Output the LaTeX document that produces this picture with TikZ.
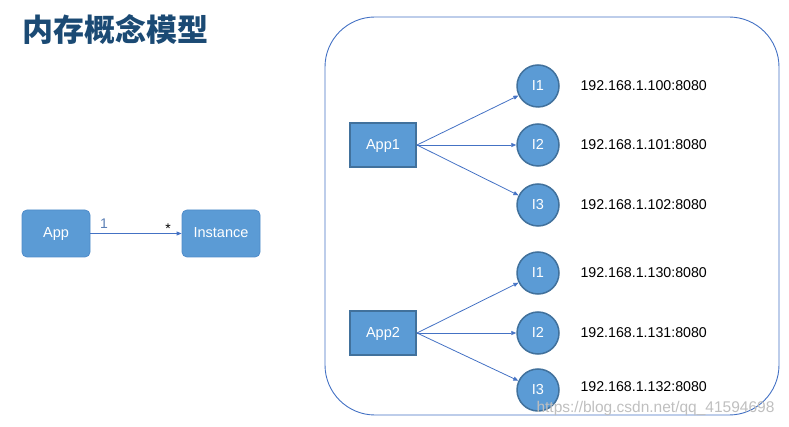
\documentclass[tikz,border=0pt]{standalone}
\usepackage{fontspec}
\setmainfont{Liberation Sans}
\newfontfamily\cjk{Noto Sans CJK SC}
\usetikzlibrary{arrows.meta}
\definecolor{boxfill}{HTML}{5B9BD5}
\definecolor{boxedge}{HTML}{41719C}
\definecolor{lightedge}{HTML}{4F8BC9}
\definecolor{linkblue}{HTML}{4472C4}
\definecolor{titleblue}{HTML}{1B4A74}
\definecolor{labelblue}{HTML}{5B7FB5}
\begin{document}
\begin{tikzpicture}[x=1pt,y=-1pt,
  lbl/.style={text=white, font=\fontsize{14.5}{16}\selectfont, text height=9pt, text depth=0pt, inner sep=0pt},
  rbox/.style={lbl, draw=lightedge, line width=0.8pt, fill=boxfill, rounded corners=5pt,
    minimum width=68pt, minimum height=47pt},
  appbox/.style={lbl, draw=boxedge, line width=2pt, fill=boxfill,
    minimum width=66pt, minimum height=44pt},
  inst/.style={lbl, circle, draw=boxedge, line width=1.5pt, fill=boxfill, minimum size=42pt},
  ip/.style={anchor=west, font=\fontsize{14.2}{16}\selectfont, text=black},
  link/.style={draw=linkblue, line width=0.8pt, -{Triangle[length=5pt,width=4pt]}},
]
\useasboundingbox (0,0) rectangle (789,427);
\node[font=\cjk\bfseries\fontsize{31}{35}\selectfont, text=titleblue, anchor=west] (title) at (19,30) {内存概念模型};

\node[rbox, minimum width=68pt] (app) at (56,233.5) {App};
\node[rbox, minimum width=78pt] (instance) at (221,233.5) {Instance};
\draw[link, line width=0.9pt] (app) -- (instance);
\node[text=labelblue, font=\fontsize{14}{16}\selectfont] (one) at (104,224) {1};
\node[font=\fontsize{14}{16}\selectfont] (star) at (168,229) {*};

\node[draw=linkblue, line width=0.9pt, rounded corners=50pt, minimum width=454pt, minimum height=398pt] (frame) at (552,216) {};

\node[appbox] (app1) at (383,145) {App1};
\node[inst] (a1) at (538,86) {I1};
\node[inst] (a2) at (538,145) {I2};
\node[inst] (a3) at (538,205) {I3};
\coordinate (o1) at (417,145);
\draw[link] (o1) -- (a1);
\draw[link] (o1) -- (a2);
\draw[link] (o1) -- (a3);
\node[ip] (ip1) at (577,86) {192.168.1.100:8080};
\node[ip] (ip2) at (577,145) {192.168.1.101:8080};
\node[ip] (ip3) at (577,205) {192.168.1.102:8080};

\node[appbox] (app2) at (383,333) {App2};
\node[inst] (b1) at (538,273) {I1};
\node[inst] (b2) at (538,333) {I2};
\node[inst] (b3) at (538,390) {I3};
\coordinate (o2) at (417,333);
\draw[link] (o2) -- (b1);
\draw[link] (o2) -- (b2);
\draw[link] (o2) -- (b3);
\node[ip] (ip4) at (577,273) {192.168.1.130:8080};
\node[ip] (ip5) at (577,333) {192.168.1.131:8080};
\node[ip] (ip6) at (577,387) {192.168.1.132:8080};

\node[anchor=west, text=black!25, font=\fontsize{15.5}{17}\selectfont] (wm) at (533,408) {https://blog.csdn.net/qq\_41594698};
\end{tikzpicture}
\end{document}
